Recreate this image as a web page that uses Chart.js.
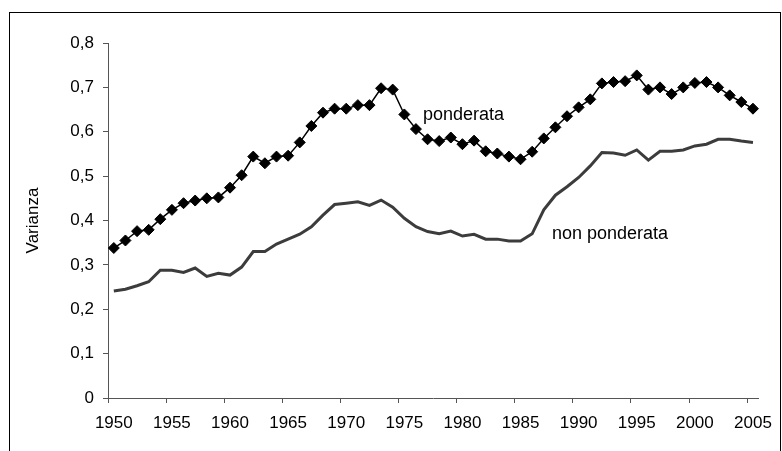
<!DOCTYPE html>
<html>
<head>
<meta charset="utf-8">
<script src="https://cdn.jsdelivr.net/npm/chart.js"></script>
<style>
  html, body { margin: 0; padding: 0; background: #fff; overflow: hidden; }
  #wrap { position: relative; width: 782px; height: 451px; }
  #frame { position: absolute; left: 9px; top: 12px; width: 770px; height: 470px; border: 1px solid #000; }
  #chart { position: absolute; left: 0; top: 0; }
</style>
</head>
<body>
<div id="wrap">
  <div id="frame"></div>
  <canvas id="chart" width="782" height="451"></canvas>
</div>
<script>
const years = ['1950','1951','1952','1953','1954','1955','1956','1957','1958','1959',
  '1960','1961','1962','1963','1964','1965','1966','1967','1968','1969',
  '1970','1971','1972','1973','1974','1975','1976','1977','1978','1979',
  '1980','1981','1982','1983','1984','1985','1986','1987','1988','1989',
  '1990','1991','1992','1993','1994','1995','1996','1997','1998','1999',
  '2000','2001','2002','2003','2004','2005'];

const ponderata = [0.338, 0.355, 0.376, 0.379, 0.403, 0.424, 0.439, 0.445, 0.450, 0.452,
  0.474, 0.502, 0.544, 0.529, 0.544, 0.546, 0.576, 0.613, 0.643, 0.652,
  0.652, 0.660, 0.660, 0.698, 0.695, 0.639, 0.606, 0.583, 0.579, 0.587,
  0.572, 0.580, 0.556, 0.551, 0.544, 0.538, 0.555, 0.585, 0.610, 0.635,
  0.655, 0.673, 0.709, 0.712, 0.714, 0.727, 0.695, 0.700, 0.685, 0.700,
  0.710, 0.712, 0.700, 0.682, 0.667, 0.652];

const nonPonderata = [0.241, 0.245, 0.253, 0.262, 0.288, 0.288, 0.283, 0.293, 0.274, 0.281,
  0.277, 0.295, 0.330, 0.330, 0.347, 0.358, 0.369, 0.386, 0.412, 0.436,
  0.439, 0.442, 0.434, 0.446, 0.430, 0.405, 0.386, 0.375, 0.370, 0.376,
  0.365, 0.369, 0.358, 0.358, 0.354, 0.354, 0.370, 0.424, 0.457, 0.476,
  0.497, 0.523, 0.553, 0.552, 0.547, 0.559, 0.536, 0.556, 0.556, 0.559,
  0.568, 0.572, 0.583, 0.583, 0.579, 0.576];

const yTicks = [0, 0.1, 0.2, 0.3, 0.4, 0.5, 0.6, 0.7, 0.8];

// in-plot series labels: text, category index (fractional), value
const labelTexts = ['ponderata', 'non ponderata'];
const labelAt = [26.6, 37.7];
const labelVal = [0.637, 0.370];

const FONT = "'Liberation Sans', Arial, sans-serif";

const seriesLabels = {
  id: 'seriesLabels',
  afterDatasetsDraw(chart) {
    const ctx = chart.ctx;
    const xs = chart.scales.x, ys = chart.scales.y;
    ctx.save();
    ctx.font = '18px ' + FONT;
    ctx.fillStyle = '#000';
    ctx.textAlign = 'left';
    ctx.textBaseline = 'middle';
    labelTexts.forEach((t, i) => {
      ctx.fillText(t, xs.getPixelForValue(labelAt[i]), ys.getPixelForValue(labelVal[i]));
    });
    ctx.restore();
  }
};

new Chart(document.getElementById('chart').getContext('2d'), {
  type: 'line',
  data: {
    labels: years,
    datasets: [{
      label: 'ponderata',
      data: ponderata,
      borderColor: '#000',
      borderWidth: 1.5,
      backgroundColor: '#000',
      pointStyle: 'rectRot',
      pointRadius: 5.5,
      pointBorderWidth: 1,
      pointBackgroundColor: '#000',
      pointBorderColor: '#000',
      tension: 0
    }, {
      label: 'non ponderata',
      data: nonPonderata,
      borderColor: '#3c3c3c',
      borderWidth: 3,
      pointRadius: 0,
      tension: 0
    }]
  },
  options: {
    responsive: false,
    animation: false,
    layout: { padding: { top: 43, right: 15, bottom: 0, left: 0 } },
    plugins: {
      legend: { display: false },
      tooltip: { enabled: false }
    },
    scales: {
      x: {
        type: 'category',
        offset: true,
        afterFit(scale) { scale.height = 53; },
        border: { display: true, color: '#555', width: 1 },
        grid: {
          offset: true,
          drawOnChartArea: false,
          drawTicks: true,
          tickLength: 5,
          color: c => (c.index % 5 === 0 && c.index < years.length) ? '#555' : 'rgba(0,0,0,0)'
        },
        ticks: {
          autoSkip: false,
          maxRotation: 0,
          minRotation: 0,
          padding: 10,
          color: '#000',
          font: { family: FONT, size: 17 },
          callback(value) {
            const y = this.getLabelForValue(value);
            return Number(y) % 5 === 0 ? y : '';
          }
        }
      },
      y: {
        min: 0,
        max: 0.8,
        afterFit(scale) { scale.width = 108; },
        afterBuildTicks(scale) { scale.ticks = yTicks.map(v => ({ value: v })); },
        border: { display: true, color: '#555', width: 1 },
        grid: {
          drawOnChartArea: false,
          drawTicks: true,
          tickLength: 5,
          color: '#555'
        },
        ticks: {
          padding: 9,
          color: '#000',
          font: { family: FONT, size: 17 },
          callback: v => v === 0 ? '0' : v.toFixed(1).replace('.', ',')
        },
        title: {
          display: true,
          text: 'Varianza',
          color: '#000',
          font: { family: FONT, size: 17 },
          padding: { top: 23, bottom: 0 }
        }
      }
    }
  },
  plugins: [seriesLabels]
});
</script>
</body>
</html>
